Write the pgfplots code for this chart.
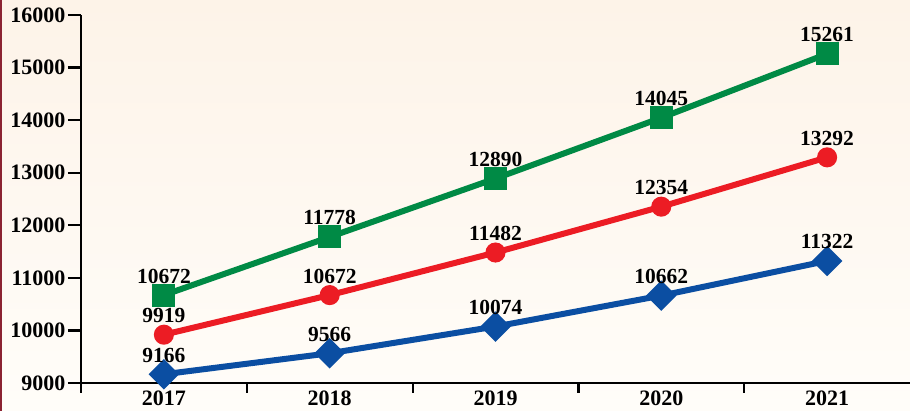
\documentclass[border=0pt]{standalone}
\usepackage{pgfplots}
\pgfplotsset{compat=1.18}
\usepackage{fontspec}
\setmainfont{Liberation Serif}
\definecolor{cgreen}{HTML}{008A45}
\definecolor{cred}{HTML}{EC1C24}
\definecolor{cblue}{HTML}{0B4EA2}
\definecolor{bgtop}{HTML}{FDF3E8}
\definecolor{bgbot}{HTML}{FFFDF9}
\definecolor{edge}{HTML}{8B2332}
\begin{document}
\begin{tikzpicture}
\shade[top color=bgtop, bottom color=bgbot] (-81pt,-28pt) rectangle (829pt,383pt);
\draw[edge, line width=2pt] (-80pt,-28pt) -- (-80pt,383pt);
\begin{axis}[
  at={(0,0)}, anchor=south west,
  scale only axis, width=829pt, height=368pt,
  xmin=-0.5, xmax=4.5, ymin=9000, ymax=16000,
  axis lines*=left, axis line style={line width=2.2pt, -},
  every tick/.style={black, line width=2.2pt},
  tick align=outside, major tick length=13pt, minor tick length=10pt,
  xtick={0,1,2,3,4}, xticklabels={2017,2018,2019,2020,2021},
  minor xtick={-0.5,0.5,1.5,2.5,3.5},
  major x tick style={draw=none},
  ytick={9000,10000,...,16000},
  scaled y ticks=false,
  yticklabel={\pgfmathprintnumber[fixed,precision=0,1000 sep={},assume math mode=true]{\tick}},
  tick label style={font=\fontsize{22}{24}\selectfont\bfseries},
  yticklabel style={xshift=1pt},
  xticklabel style={yshift=9pt},
  nodes near coords={\pgfmathprintnumber[fixed,precision=0,1000 sep={},assume math mode=true]{\pgfplotspointmeta}},
  every node near coord/.style={font=\fontsize{21.5}{24}\selectfont\bfseries, anchor=center, yshift=19pt, black},
  clip=false,
]
\addplot[cgreen, line width=6pt, mark=square*, mark size=8.5pt, mark options={solid}] coordinates {(0,10672) (1,11778) (2,12890) (3,14045) (4,15261)};
\addplot[cred, line width=6pt, mark=*, mark size=7pt] coordinates {(0,9919) (1,10672) (2,11482) (3,12354) (4,13292)};
\addplot[cblue, line width=6pt, mark=square*, mark size=7.8pt, mark options={rotate=45}] coordinates {(0,9166) (1,9566) (2,10074) (3,10662) (4,11322)};
\end{axis}
\pgfresetboundingbox
\useasboundingbox (-81pt,-28pt) rectangle (829pt,383pt);
\end{tikzpicture}
\end{document}
